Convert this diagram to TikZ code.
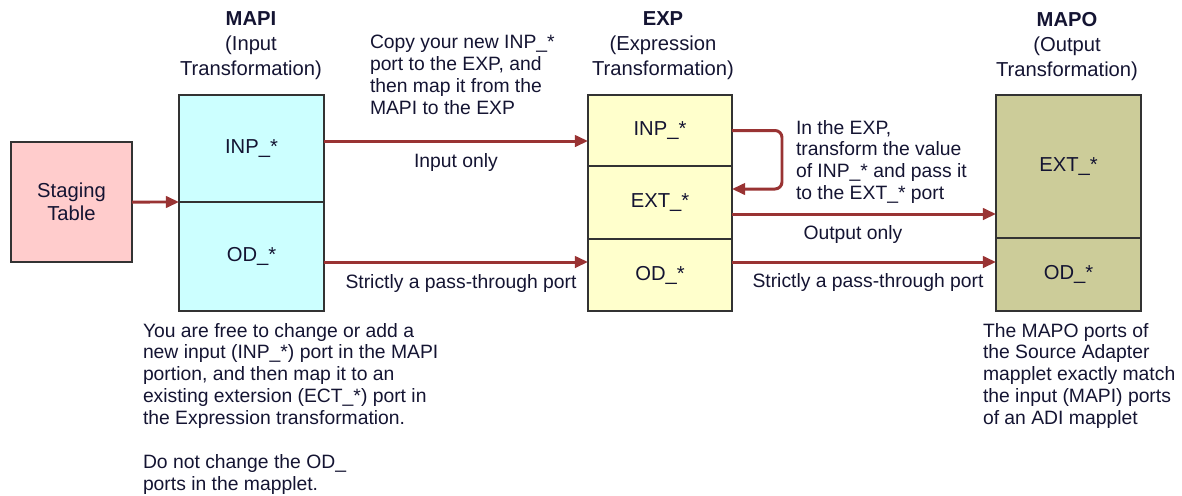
\documentclass[tikz,border=0pt]{standalone}
\usepackage{fontspec}
\setmainfont{Liberation Sans}
\usetikzlibrary{arrows.meta}

\definecolor{linkred}{RGB}{153,51,51}
\definecolor{stagepink}{RGB}{255,204,204}
\definecolor{mapicyan}{RGB}{204,255,255}
\definecolor{expyellow}{RGB}{255,255,204}
\definecolor{mapoolive}{RGB}{204,204,153}
\definecolor{boxline}{RGB}{51,51,51}
\definecolor{txt}{RGB}{20,20,50}

\begin{document}
\begin{tikzpicture}
            [x=0.02cm,y=-0.02cm,
             every node/.style={inner sep=0pt,outer sep=0pt,text=txt,font=\fontsize{11pt}{12.5pt}\selectfont},
             portbox/.style={draw=boxline,line width=0.9pt,minimum width=2.9cm,font=\fontsize{11.5pt}{13pt}\selectfont},
             title/.style={anchor=north,align=center,font=\fontsize{11.5pt}{14.2pt}\selectfont},
             note/.style={anchor=north west,align=left},
             link/.style={draw=linkred,line width=1.7pt,-{Triangle[length=7.5pt,width=6.5pt]}}]
            \useasboundingbox (0,0) rectangle (1182,495);

            \node[portbox,fill=stagepink,minimum width=2.42cm,minimum height=2.4cm,align=center] (staging) at (71.5,202) {Staging\\Table};
            \node[portbox,fill=mapicyan,minimum height=2.14cm] (mapiInp) at (251.5,148.5) {INP\_*};
            \node[portbox,fill=mapicyan,minimum height=2.18cm] (mapiOd)  at (251.5,256.5) {OD\_*};
            \node[portbox,fill=expyellow,minimum width=2.88cm,minimum height=1.42cm] (expInp) at (660,130.5) {INP\_*};
            \node[portbox,fill=expyellow,minimum width=2.88cm,minimum height=1.46cm] (expExt) at (660,202.5) {EXT\_*};
            \node[portbox,fill=expyellow,minimum width=2.88cm,minimum height=1.44cm] (expOd)  at (660,275) {OD\_*};
            \node[portbox,fill=mapoolive,minimum height=2.86cm] (mapoExt) at (1068.5,166.5) {EXT\_*};
            \node[portbox,fill=mapoolive,minimum height=1.46cm] (mapoOd)  at (1068.5,274.5) {OD\_*};

            \node[title] (mapiTitle) at (251,12)  {\textbf{MAPI}\\(Input\\Transformation)};
            \node[title] (expTitle)  at (663,12)  {\textbf{EXP}\\(Expression\\Transformation)};
            \node[title] (mapoTitle) at (1067,12) {\textbf{MAPO}\\(Output\\Transformation)};

            \node[note] (copyNote) at (370,35) {Copy your new INP\_*\\port to the EXP, and\\then map it from the\\MAPI to the EXP};
            \node[note] (loopNote) at (796,120) {In the EXP,\\transform the value\\of INP\_* and pass it\\to the EXT\_* port};
            \node[note] (mapiNote) at (143,323) {You are free to change or add a\\new input (INP\_*) port in the MAPI\\portion, and then map it to an\\existing extersion (ECT\_*) port in\\the Expression transformation.\\[12.5pt]Do not change the OD\_\\ports in the mapplet.};
            \node[note] (mapoNote) at (983,323) {The MAPO ports of\\the Source Adapter\\mapplet exactly match\\the input (MAPI) ports\\of an ADI mapplet};

            \node (inLabel)    at (456,162) {Input only};
            \node (passLabelA) at (461,283) {Strictly a pass-through port};
            \node (outLabel)   at (853,234) {Output only};
            \node (passLabelB) at (868,282) {Strictly a pass-through port};

            \draw[link] (staging.east) -- (mapiInp.south west);
            \draw[link] (mapiInp.east |- 0,141) -- (expInp.west |- 0,141);
            \draw[link] (mapiOd.east |- 0,262) -- (expOd.west |- 0,262);
            \draw[link,rounded corners=4pt] (expInp.east) -- ++(50,0) |- (expExt.east |- 0,189);
            \draw[link] (expExt.east |- 0,214) -- (mapoExt.west |- 0,214);
            \draw[link] (expOd.east |- 0,262) -- (mapoOd.west |- 0,262);
        \end{tikzpicture}
\end{document}
